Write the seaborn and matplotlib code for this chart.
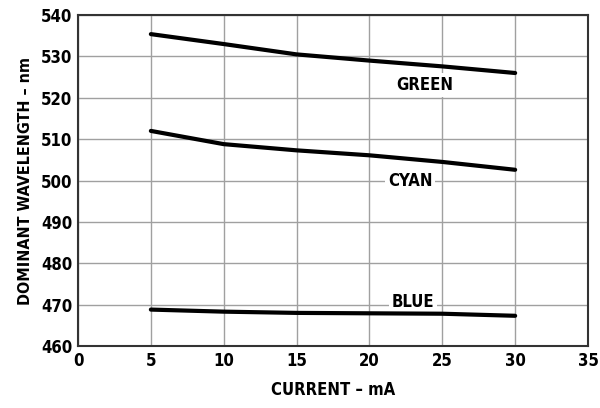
import matplotlib
matplotlib.use("Agg")
import matplotlib.pyplot as plt
import seaborn as sns
import pandas as pd

# data
current_ma = [5, 10, 15, 20, 25, 30]
green_nm = [535.4, 533.0, 530.5, 529.0, 527.6, 526.0]
cyan_nm = [512.0, 508.8, 507.3, 506.1, 504.5, 502.6]
blue_nm = [468.8, 468.3, 468.0, 467.9, 467.8, 467.3]

series_names = ["GREEN", "CYAN", "BLUE"]
label_x = [23.8, 22.8, 23.0]
label_y = [523.1, 500.0, 470.6]

x_ticks = [0, 5, 10, 15, 20, 25, 30, 35]
y_ticks = [460, 470, 480, 490, 500, 510, 520, 530, 540]

df = pd.DataFrame({
    "current": current_ma * 3,
    "wavelength": green_nm + cyan_nm + blue_nm,
    "series": [n for n in series_names for _ in current_ma],
})

sns.set_style("white")
plt.rcParams["font.family"] = ["Liberation Sans Narrow", "DejaVu Sans Condensed", "DejaVu Sans"]
plt.rcParams["font.stretch"] = "condensed"
plt.rcParams["font.weight"] = "bold"
plt.rcParams["text.color"] = "black"
plt.rcParams["axes.labelcolor"] = "black"
plt.rcParams["xtick.color"] = "black"
plt.rcParams["ytick.color"] = "black"

fig, ax = plt.subplots(figsize=(6.0, 4.08), dpi=100)
fig.subplots_adjust(left=0.13, right=0.98, top=0.963, bottom=0.152)

# draw the three curves first, the grid and labels go around them
sns.lineplot(data=df, x="current", y="wavelength", units="series", estimator=None,
             color="black", linewidth=3.0, ax=ax, zorder=3)

for name, lx, ly in zip(series_names, label_x, label_y):
    ax.text(lx, ly, name, ha="center", va="center", fontsize=12, fontweight="bold",
            zorder=2.5, bbox=dict(facecolor="white", edgecolor="none", pad=2.0))

ax.set_xlim(0, 35)
ax.set_ylim(460, 540)
ax.set_xticks(x_ticks)
ax.set_yticks(y_ticks)
ax.grid(True, color="#a0a0a0", linewidth=1.0)
ax.tick_params(length=0, labelsize=12, pad=4)
for lbl in ax.get_xticklabels() + ax.get_yticklabels():
    lbl.set_fontweight("bold")
for s in ax.spines.values():
    s.set_color("#333333")
    s.set_linewidth(1.5)

ax.set_xlabel("CURRENT – mA", fontsize=12, fontweight="bold", labelpad=8)
ax.set_ylabel("DOMINANT WAVELENGTH – nm", fontsize=11.5, fontweight="bold", labelpad=6)

fig.savefig("out.png", dpi=100)
